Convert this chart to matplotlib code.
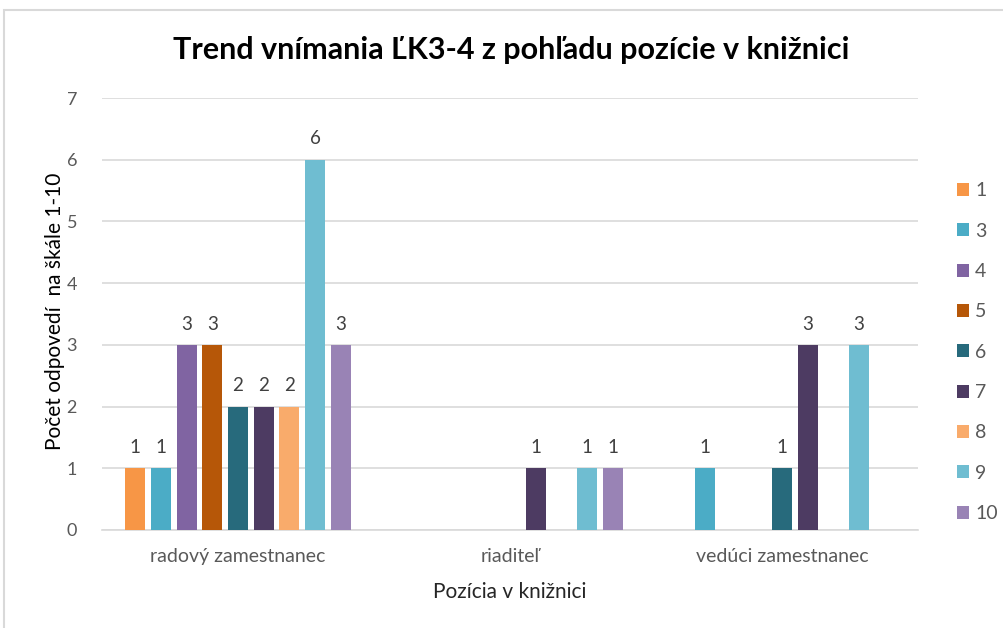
import matplotlib.pyplot as plt
from matplotlib.patches import Rectangle
import numpy as np

categories = ["radový zamestnanec", "riaditeľ", "vedúci zamestnanec"]
series_names = ["1", "3", "4", "5", "6", "7", "8", "9", "10"]
values = {
    "1": [1, 0, 0],
    "3": [1, 0, 1],
    "4": [3, 0, 0],
    "5": [3, 0, 0],
    "6": [2, 0, 1],
    "7": [2, 1, 3],
    "8": [2, 0, 0],
    "9": [6, 1, 3],
    "10": [3, 1, 0],
}
colors = ["#F79646", "#4BACC6", "#8064A2", "#B65708", "#276A7C",
          "#4D3B62", "#F9AB6B", "#6FBDD1", "#9983B5"]

plt.rcParams['font.family'] = ['Lato', 'DejaVu Sans']

fig = plt.figure(figsize=(10.04, 6.28), dpi=100)
fig.patches.append(Rectangle((4 / 1004, -0.1), 1.2, 1 - 10 / 628 + 0.1,
                             transform=fig.transFigure, fill=False,
                             edgecolor="#D9D9D9", linewidth=1.5))
ax = fig.add_axes([102 / 1004, 1 - 530 / 628, 816 / 1004, 432 / 628])

x = np.arange(len(categories))
step = 0.0945
width = 0.0735
n = len(series_names)
for i, name in enumerate(series_names):
    pos = x + (i - (n - 1) / 2) * step
    vals = values[name]
    ax.bar(pos, vals, width, color=colors[i], label=name, zorder=3)
    for p, v in zip(pos, vals):
        if v > 0:
            ax.text(p, v + 0.2, str(v), ha="center", va="bottom",
                    fontsize=13.5, color="#404040")

ax.set_xlim(-0.5, 2.5)
ax.set_ylim(0, 7)
ax.set_yticks(range(8))
ax.set_xticks(x)
ax.set_xticklabels(categories, fontsize=14)
ax.grid(axis="y", color="#D9D9D9", linewidth=1.2, zorder=0)
for s in ["top", "right", "left"]:
    ax.spines[s].set_visible(False)
ax.spines["bottom"].set_color("#D9D9D9")
ax.spines["bottom"].set_linewidth(1.2)
ax.tick_params(axis="both", length=0, labelcolor="#595959")
ax.tick_params(axis="y", pad=18, labelsize=13)
ax.tick_params(axis="x", pad=13)

fig.text(510 / 1004, 1 - 592 / 628, "Pozícia v knižnici", ha="center", va="center",
         fontsize=15, color="#262626")
fig.text(55 / 1004, 1 - 311 / 628, "Počet odpovedí  na škále 1-10", ha="center",
         va="center", rotation=90, fontsize=15, color="#000000")

fig.text(511 / 1004, 1 - 50 / 628, "Trend vnímania ĽK3-4 z pohľadu pozície v knižnici",
         ha="center", va="center", fontsize=22, fontweight="bold", color="#000000")

ax.legend(loc="center left", bbox_to_anchor=(1.026, 0.412), frameon=False,
          fontsize=14, labelcolor="#595959", handlelength=0.65, handleheight=0.65,
          handletextpad=0.3, labelspacing=1.2)

fig.savefig("out.png", dpi=100)
